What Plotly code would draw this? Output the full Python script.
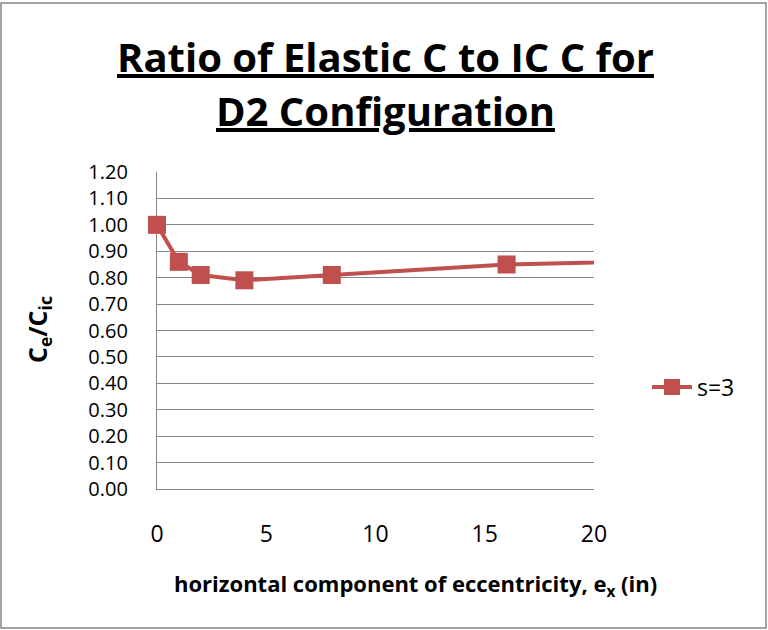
import plotly.graph_objects as go

# Eccentricity (in) and ratio of elastic to instantaneous-center coefficient
ecc_x = [0, 1, 2, 4, 8, 16, 32]
ratio_s3 = [1.00, 0.86, 0.81, 0.79, 0.81, 0.85, 0.88]
series_name = "s=3"
y_ticks = [i / 10 for i in range(13)]
y_tick_text = [f"{v:.2f}" for v in y_ticks]
x_ticks = [0, 5, 10, 15, 20]

RED = "#C0504D"
GRID = "#868686"
FONT = "Open Sans"

W, H = 768, 630
L, R, T, B = 157, 594, 172, 489  # plot-area pixel bounds


def px(x):
    return (x - L) / (R - L)


def py(y):
    return (B - y) / (B - T)


fig = go.Figure()
fig.add_trace(go.Scatter(
    x=ecc_x, y=ratio_s3, name=series_name, mode="lines+markers",
    line=dict(color=RED, width=4),
    marker=dict(symbol="square", size=18, color=RED),
    cliponaxis=False,
))

fig.update_layout(
    width=W, height=H,
    margin=dict(l=L, r=W - R, t=T, b=H - B, pad=0),
    paper_bgcolor="white", plot_bgcolor="white",
    font=dict(family=FONT, color="black"),
    showlegend=True,
    legend=dict(x=px(647), y=py(387), xanchor="left", yanchor="middle",
                font=dict(size=23, family=FONT), bgcolor="rgba(0,0,0,0)",
                itemwidth=40),
    xaxis=dict(range=[0, 20], tickvals=x_ticks, showgrid=False,
               showline=True, linecolor=GRID, linewidth=1.2,
               zeroline=False, tickfont=dict(size=23, family=FONT),
               ticks="", ticklabelstandoff=24, layer="below traces"),
    yaxis=dict(range=[0, 1.2], tickvals=y_ticks, ticktext=y_tick_text,
               showgrid=True, gridcolor=GRID, gridwidth=1.2,
               showline=True, linecolor=GRID, linewidth=1.2,
               zeroline=False, tickfont=dict(size=20, family=FONT),
               ticks="", ticklabelstandoff=24, layer="below traces"),
)

# Chart title, two underlined bold lines
fig.add_annotation(xref="paper", yref="paper", x=px(385), y=py(56),
                   text="<b><u>Ratio of Elastic C to IC C for</u></b>",
                   showarrow=False, font=dict(size=40, family=FONT),
                   xanchor="center", yanchor="middle")
fig.add_annotation(xref="paper", yref="paper", x=px(385), y=py(110),
                   text="<b><u>D2 Configuration</u></b>",
                   showarrow=False, font=dict(size=40, family=FONT),
                   xanchor="center", yanchor="middle")

# Axis titles
fig.add_annotation(xref="paper", yref="paper", x=px(38), y=py(330),
                   text="<b>C<sub>e</sub>/C<sub>ic</sub></b>", textangle=-90,
                   showarrow=False, font=dict(size=25, family=FONT),
                   xanchor="center", yanchor="middle")
fig.add_annotation(xref="paper", yref="paper", x=px(415), y=py(585),
                   text="<b>horizontal component of eccentricity, e<sub>x</sub> (in)</b>",
                   showarrow=False, font=dict(size=22, family=FONT),
                   xanchor="center", yanchor="middle")

# Chart frame
fig.add_shape(type="rect", xref="paper", yref="paper",
              x0=px(1), x1=px(766), y0=py(628), y1=py(3),
              line=dict(color=GRID, width=1.5), layer="below")

fig.write_html("out.html")
